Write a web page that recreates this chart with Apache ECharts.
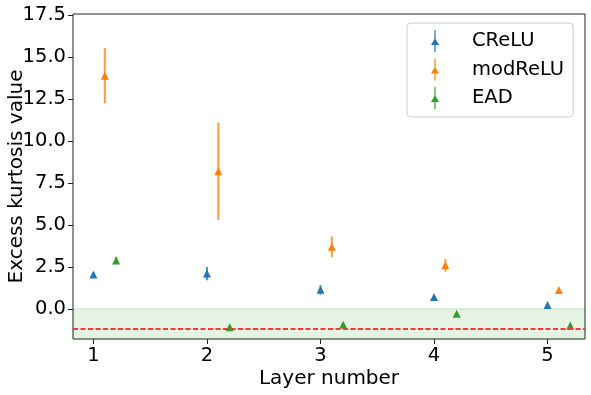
<!DOCTYPE html>
<html>
<head>
<meta charset="utf-8">
<script src="https://cdn.jsdelivr.net/npm/echarts@6/dist/echarts.min.js"></script>
<style>
  html, body { margin: 0; padding: 0; background: #fff; }
  #main { width: 591px; height: 395px; }
</style>
</head>
<body>
<div id="main"></div>
<script>
// layers and the small shift each method gets on the x axis
const layers = [1, 2, 3, 4, 5]
const offsets = [0, 0.1, 0.2]
const methods = ['CReLU', 'modReLU', 'EAD']
const colors = ['#1f77b4', '#ff7f0e', '#2ca02c']

const creluVal = [2.05, 2.1, 1.13, 0.7, 0.22]
const creluErr = [0.12, 0.4, 0.28, 0.06, 0.06]
const modreluVal = [13.9, 8.2, 3.7, 2.6, 1.12]
const modreluErr = [1.65, 2.9, 0.62, 0.38, 0.1]
const eadVal = [2.88, -1.1, -0.95, -0.3, -1.0]
const eadErr = [0.22, 0.05, 0.1, 0.1, 0.05]

const yTicks = [0, 2.5, 5, 7.5, 10, 12.5, 15, 17.5]
const refLine = -1.2

const vals = [creluVal, modreluVal, eadVal]
const errs = [creluErr, modreluErr, eadErr]

const font = 'DejaVu Sans'
const chart = echarts.init(document.getElementById('main'))

const series = []
methods.forEach(function (name, k) {
  const pts = layers.map(function (l, i) {
    return [l + offsets[k], vals[k][i], errs[k][i]]
  })
  // error bars
  series.push({
    name: name,
    type: 'custom',
    data: pts,
    z: 2,
    itemStyle: { color: colors[k] },
    renderItem: function (params, api) {
      const x = api.value(0)
      const y = api.value(1)
      const e = api.value(2)
      const top = api.coord([x, y + e])
      const bot = api.coord([x, y - e])
      return {
        type: 'line',
        shape: { x1: top[0], y1: top[1], x2: bot[0], y2: bot[1] },
        style: { stroke: colors[k], lineWidth: 2, opacity: 0.8 }
      }
    }
  })
  const sc = {
    name: name,
    type: 'scatter',
    data: pts.map(function (p) { return [p[0], p[1]] }),
    symbol: 'triangle',
    symbolSize: [8, 8],
    itemStyle: { color: colors[k], opacity: 1 },
    z: 3
  }
  if (k === 2) {
    sc.markArea = {
      silent: true,
      itemStyle: { color: 'rgba(44,160,44,0.12)', borderColor: 'rgba(44,160,44,0.2)', borderWidth: 1 },
      data: [[{ yAxis: 0 }, { yAxis: -1.8 }]]
    }
    sc.markLine = {
      silent: true,
      symbol: 'none',
      label: { show: false },
      lineStyle: { color: '#ff3333', type: [5, 2.5], width: 2 },
      data: [{ yAxis: refLine }]
    }
  }
  series.push(sc)
})

const legendIcon = 'path://M4.4,0 L5.6,0 L5.6,22 L4.4,22 Z M5,8 L9,15 L1,15 Z'

const option = {
  animation: false,
  backgroundColor: '#fff',
  color: colors,
  grid: {
    left: 73, right: 6, top: 14, bottom: 56,
    outerBoundsMode: 'none',
    containLabel: false,
    show: true, borderColor: '#222', borderWidth: 1
  },
  legend: {
    data: methods.map(function (m) { return { name: m, icon: legendIcon, itemStyle: { color: colors[methods.indexOf(m)] } } }),
    orient: 'vertical',
    left: 407,
    top: 23,
    padding: [7, 9, 8, 24],
    itemWidth: 10,
    itemHeight: 22,
    itemGap: 6.5,
    borderColor: '#ccc',
    borderWidth: 1,
    borderRadius: 4,
    textStyle: { fontFamily: font, fontSize: 19.5, color: '#000', padding: [0, 0, 0, 27] }
  },
  xAxis: {
    type: 'value',
    min: 0.82,
    max: 5.33,
    name: 'Layer number',
    nameLocation: 'middle',
    nameGap: 30,
    nameMoveOverlap: false,
    nameTextStyle: { fontFamily: font, fontSize: 20, color: '#000' },
    axisLine: { show: false, onZero: false },
    axisTick: { show: true, length: 5, lineStyle: { color: '#222' }, customValues: layers },
    axisLabel: { fontFamily: font, fontSize: 19.5, color: '#000', margin: 7, customValues: layers },
    splitLine: { show: false }
  },
  yAxis: {
    type: 'value',
    min: -1.8,
    max: 17.58,
    name: 'Excess kurtosis value',
    nameLocation: 'middle',
    nameGap: 46,
    nameMoveOverlap: false,
    nameTextStyle: { fontFamily: font, fontSize: 20, color: '#000' },
    axisLine: { show: false, onZero: false },
    axisTick: { show: true, length: 5, lineStyle: { color: '#222' }, customValues: yTicks },
    axisLabel: {
      fontFamily: font, fontSize: 19.5, color: '#000', margin: 7, customValues: yTicks,
      formatter: function (v) { return v.toFixed(1) }
    },
    splitLine: { show: false }
  },
  series: series
}

chart.setOption(option)
</script>
</body>
</html>
